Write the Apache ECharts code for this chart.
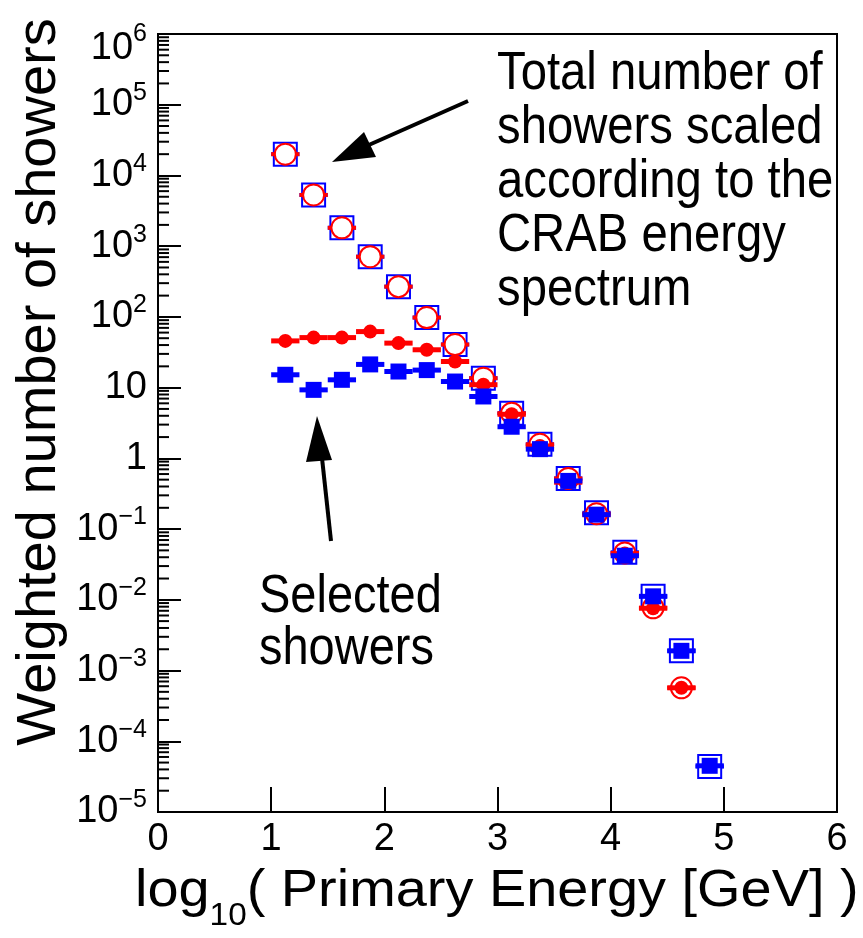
<!DOCTYPE html>
<html><head><meta charset="utf-8">
<script src="https://cdn.jsdelivr.net/npm/echarts@6/dist/echarts.min.js"></script>
<style>html,body{margin:0;padding:0;background:#fff}#c{width:863px;height:938px}</style>
</head><body><div id="c"></div>
<script>
// ---- data ----
const energyBins = [1.125, 1.375, 1.625, 1.875, 2.125, 2.375, 2.625, 2.875, 3.125, 3.375, 3.625, 3.875, 4.125, 4.375, 4.625, 4.875];
const binHalfWidth = 0.125;
// Total number of showers (open markers)
const totalBlue = [2.0e4, 5300, 1820, 710, 268, 98, 40.7, 13.6, 4.35, 1.58, 0.52, 0.17, 0.047, 0.0112, 0.0019, 4.4e-5];
const totalRed  = [2.0e4, 5300, 1820, 710, 268, 98, 40.7, 13.6, 4.35, 1.58, 0.52, 0.165, 0.046, 0.0077, 5.7e-4, null];
// Selected showers (filled markers)
const selectedBlue = [15.2, 9.3, 12.9, 21.3, 16.9, 17.7, 12.2, 7.5, 2.8, 1.35, 0.48, 0.16, 0.042, 0.0112, 0.0019, 4.5e-5];
const selectedRed  = [45.8, 51, 51, 62, 42.6, 34.3, 23.4, 11, 4.2, 1.5, 0.46, 0.16, 0.045, 0.0076, 5.7e-4, null];
// axes
const xTickValues = [0, 1, 2, 3, 4, 5, 6];
const yDecades = [-5, -4, -3, -2, -1, 0, 1, 2, 3, 4, 5, 6];
const minorMultipliers = [2, 3, 4, 5, 6, 7, 8, 9];
const xTitleParts = ['log', '10', '( Primary Energy [GeV] )'];
const yTitle = 'Weighted number of showers';
const noteTotal = ['Total number of', 'showers scaled', 'according to the', 'CRAB energy', 'spectrum'];
const noteSelected = ['Selected', 'showers'];

const BLUE = '#0000ff', RED = '#ff0000';
const minorTickValues = [];
yDecades.slice(0, -1).forEach(d => minorMultipliers.forEach(m => minorTickValues.push([0, m * Math.pow(10, d)])));

function pairs(vals) {
  return energyBins.map((x, i) => vals[i] == null ? null : [x, vals[i]]).filter(Boolean);
}
function errBars(vals, color, gap, width, z) {
  return {
    type: 'custom', z: z, silent: true, clip: false, data: pairs(vals), encode: {x: 0, y: 1},
    renderItem: function (params, api) {
      const x = api.value(0), y = api.value(1);
      const c = api.coord([x, y]);
      const l = api.coord([x - binHalfWidth, y]);
      const r = api.coord([x + binHalfWidth, y]);
      const st = {stroke: color, lineWidth: width};
      return {type: 'group', children: [
        {type: 'line', shape: {x1: l[0], y1: c[1], x2: c[0] - gap, y2: c[1]}, style: st},
        {type: 'line', shape: {x1: c[0] + gap, y1: c[1], x2: r[0], y2: c[1]}, style: st}
      ]};
    }
  };
}
function fmtY(v) {
  const e = Math.round(Math.log10(v));
  if (e === 0) return '{b|1}';
  if (e === 1) return '{b|10}';
  if (e === yDecades[yDecades.length - 1]) return '{t|10}{u|' + e + '}';
  return '{b|10}{s|' + (e < 0 ? '\u2212' + (-e) : e) + '}';
}

const chart = echarts.init(document.getElementById('c'), null, {renderer: 'canvas'});
const FONT = '"Liberation Sans", Arial, sans-serif';

chart.setOption({
  animation: false,
  backgroundColor: '#ffffff',
  grid: {left: 158, right: 26, top: 32, bottom: 126, show: true, borderColor: '#000', borderWidth: 2, backgroundColor: 'transparent'},
  xAxis: {
    type: 'value', min: xTickValues[0], max: xTickValues[xTickValues.length - 1], interval: 1,
    axisLine: {show: true, lineStyle: {color: '#000', width: 2}},
    axisTick: {show: true, inside: true, length: 25, lineStyle: {color: '#000', width: 2}},
    axisLabel: {fontFamily: FONT, fontSize: 38, color: '#000', margin: 9},
    splitLine: {show: false}
  },
  yAxis: {
    type: 'log', logBase: 10, min: Math.pow(10, yDecades[0]), max: Math.pow(10, yDecades[yDecades.length - 1]), interval: 1,
    axisLine: {show: true, lineStyle: {color: '#000', width: 2}},
    axisTick: {show: true, inside: true, length: 23, lineStyle: {color: '#000', width: 2}},
    axisLabel: {
      margin: 11, color: '#000', formatter: fmtY,
      rich: {
        b: {fontFamily: FONT, fontSize: 38, lineHeight: 48, color: '#000'},
        s: {fontFamily: FONT, fontSize: 25, lineHeight: 24, verticalAlign: 'top', color: '#000'},
        t: {fontFamily: FONT, fontSize: 38, lineHeight: 48, padding: [30, 0, 0, 0], color: '#000'},
        u: {fontFamily: FONT, fontSize: 25, lineHeight: 24, color: '#000'}
      }
    },
    splitLine: {show: false},
    minorTick: {show: false}
  },
  series: [
    { // minor ticks of the log axis
      type: 'custom', silent: true, clip: false, z: 1, data: minorTickValues, encode: {x: 0, y: 1},
      renderItem: function (params, api) {
        const c = api.coord([api.value(0), api.value(1)]);
        return {type: 'line', shape: {x1: c[0], y1: c[1], x2: c[0] + 11, y2: c[1]}, style: {stroke: '#000', lineWidth: 2}};
      }
    },
    errBars(totalBlue, BLUE, 12, 4, 2),
    {type: 'scatter', z: 2, data: pairs(totalBlue), symbol: 'rect', symbolSize: 23,
      itemStyle: {color: 'rgba(0,0,0,0)', borderColor: BLUE, borderWidth: 2, opacity: 1}},
    errBars(totalRed, RED, 10, 4, 3),
    {type: 'scatter', z: 3, data: pairs(totalRed), symbol: 'circle', symbolSize: 21,
      itemStyle: {color: 'rgba(0,0,0,0)', borderColor: RED, borderWidth: 2, opacity: 1}},
    errBars(selectedRed, RED, 5, 5, 4),
    {type: 'scatter', z: 4, data: pairs(selectedRed), symbol: 'circle', symbolSize: 14,
      itemStyle: {color: RED, opacity: 1}},
    errBars(selectedBlue, BLUE, 7, 5, 5),
    {type: 'scatter', z: 5, data: pairs(selectedBlue), symbol: 'rect', symbolSize: 16,
      itemStyle: {color: BLUE, opacity: 1}}
  ],
  graphic: [
    {type: 'text', x: 40, y: 382, rotation: Math.PI / 2,
      style: {text: yTitle, font: '56px ' + FONT, fill: '#000', align: 'center', verticalAlign: 'middle'}},
    {type: 'text', x: 135, y: 852, scaleX: 1.075,
      style: {
        text: '{a|' + xTitleParts[0] + '}{b|' + xTitleParts[1] + '}{a|' + xTitleParts[2] + '}',
        verticalAlign: 'top', align: 'left',
        rich: {
          a: {fontFamily: FONT, fontSize: 52, lineHeight: 80, fill: '#000'},
          b: {fontFamily: FONT, fontSize: 31, lineHeight: 26, verticalAlign: 'bottom', fill: '#000'}
        }
      }},
    {type: 'text', x: 497, y: 47, scaleX: 0.875,
      style: {text: noteTotal.join('\n'), font: '54px ' + FONT, lineHeight: 54, fill: '#000', align: 'left', verticalAlign: 'top'}},
    {type: 'text', x: 259, y: 571, scaleX: 0.87,
      style: {text: noteSelected.join('\n'), font: '54px ' + FONT, lineHeight: 52, fill: '#000', align: 'left', verticalAlign: 'top'}},
    // arrow to total
    {type: 'line', shape: {x1: 468, y1: 101, x2: 362, y2: 148}, style: {stroke: '#000', lineWidth: 4}},
    {type: 'polygon', shape: {points: [[332, 162], [364, 132], [376, 157]]}, style: {fill: '#000'}},
    // arrow to selected
    {type: 'line', shape: {x1: 331, y1: 541, x2: 322, y2: 458}, style: {stroke: '#000', lineWidth: 4}},
    {type: 'polygon', shape: {points: [[317, 416], [306, 462], [332, 460]]}, style: {fill: '#000'}}
  ]
});
</script>
</body></html>
